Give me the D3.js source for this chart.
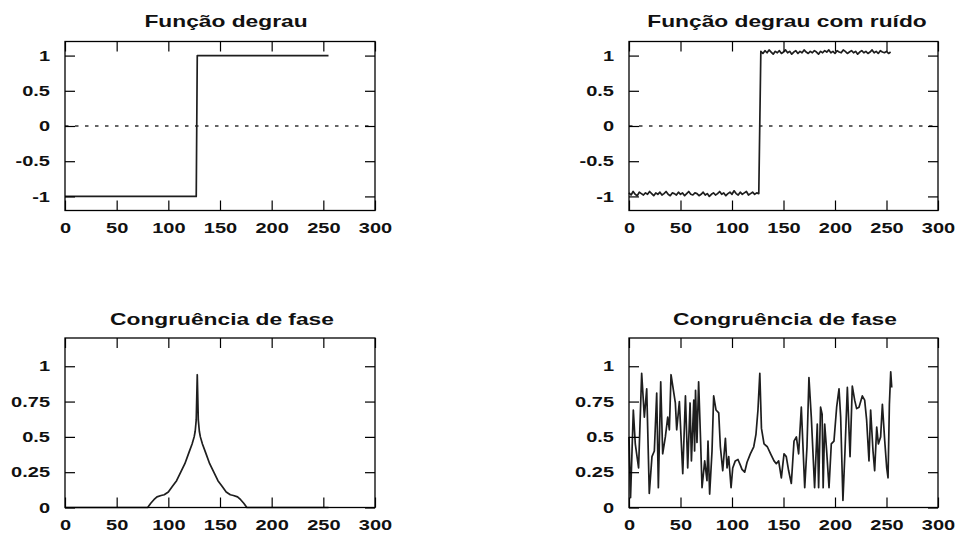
<!DOCTYPE html>
<html><head><meta charset="utf-8">
<script src="https://cdn.jsdelivr.net/npm/d3@7"></script>
<style>
html,body{margin:0;padding:0;background:#fff;}
svg{display:block;}
</style>
</head><body>
<svg id="chart" width="958" height="540"></svg>
<script>
// ---------- data ----------
const titles = ["Função degrau", "Função degrau com ruído", "Congruência de fase", "Congruência de fase"];
const xTicks = [0, 50, 100, 150, 200, 250, 300];
const stepYTicks = [-1, -0.5, 0, 0.5, 1];
const pcYTicks = [0, 0.25, 0.5, 0.75, 1];

// clean step
const stepX = [0, 127, 128, 255];
const stepY = [-1, -1, 1, 1];

// noisy step (samples every 2 units, 0..254)
const noisyLow = [-0.95,-0.98,-0.93,-0.97,-0.99,-0.94,-0.96,-0.98,-0.95,-0.97,-0.93,-0.96,-0.99,-0.95,-0.97,-0.94,
  -0.98,-0.96,-0.93,-0.97,-0.99,-0.95,-0.96,-0.98,-0.94,-0.97,-0.95,-0.99,-0.96,-0.93,-0.97,-0.98,
  -0.95,-0.96,-0.99,-0.97,-0.94,-0.98,-0.96,-1.00,-0.97,-0.95,-0.98,-0.96,-0.93,-0.97,-0.95,-0.99,
  -0.96,-0.94,-0.97,-0.92,-0.96,-0.98,-0.94,-0.97,-0.95,-0.93,-0.98,-0.96,-0.94,-0.97,-0.95,-0.96];
const noisyHigh = [1.06,1.03,1.07,1.04,1.08,1.05,1.02,1.06,1.04,1.07,1.03,1.05,1.08,1.04,1.06,1.02,
  1.05,1.07,1.03,1.06,1.04,1.08,1.05,1.03,1.06,1.04,1.07,1.05,1.02,1.06,1.04,1.07,
  1.05,1.08,1.04,1.06,1.03,1.07,1.05,1.04,1.08,1.06,1.03,1.05,1.07,1.04,1.06,1.02,
  1.05,1.07,1.04,1.06,1.03,1.05,1.08,1.04,1.06,1.03,1.07,1.05,1.04,1.06,1.03,1.05];

// phase congruency of clean step
const pcX = [0, 80, 83, 86, 89, 93, 96, 100, 104, 108, 112, 116, 120, 123, 125, 126, 127, 128,
  129, 130, 131, 133, 136, 140, 144, 148, 152, 156, 160, 163, 167, 170, 173, 176, 255];
const pcY = [0, 0, 0.03, 0.055, 0.075, 0.085, 0.09, 0.11, 0.15, 0.19, 0.25, 0.31, 0.39, 0.45, 0.5, 0.54, 0.62, 0.94,
  0.62, 0.54, 0.5, 0.45, 0.39, 0.31, 0.25, 0.19, 0.15, 0.11, 0.09, 0.085, 0.075, 0.055, 0.03, 0, 0];

// phase congruency of noisy step
const pcNX = [0,1.5,4.2,6.1,9.3,12.3,14.9,17.2,19.7,22.3,24.6,26.9,28.5,30.8,32.7,35.3,37.6,39.2,40.8,45,46.3,48.9,
  52.2,54.8,57,59.3,60.6,62.9,63.7,64.6,66,67.6,69.3,70.9,73.5,75.7,76.7,78.3,80.6,82.2,84.5,87.1,88.7,91,93.6,95.2,
  96.8,99.1,100.7,103.2,105.8,108.1,109.7,112.3,114.6,117.8,121.1,123.3,125.2,127,128.6,131.1,134.3,137.5,140.8,143,
  145.3,147.9,150.5,152.7,155,157.6,160.2,162.5,164.7,167.3,170.6,172.8,174.7,177,180.2,182.8,184.1,186,187.5,188.5,
  190,191.9,194.2,196.4,199,201.6,203.9,205.5,207.7,209.7,212,214.6,216.8,219.1,221,223.3,226.5,228.8,230.7,233,
  234.6,236.9,238.5,240.5,242.1,244.3,246,248.3,250.2,251.5,252.8,254.1,255.1];
const pcNY = [0.50,0.07,0.69,0.45,0.28,0.95,0.64,0.84,0.10,0.36,0.40,0.81,0.14,0.89,0.38,0.50,0.64,0.55,0.94,0.74,0.55,0.75,
  0.24,0.79,0.28,0.74,0.33,0.76,0.40,0.83,0.46,0.89,0.52,0.14,0.33,0.19,0.47,0.095,0.40,0.79,0.69,0.67,0.43,0.26,0.49,0.28,
  0.36,0.14,0.28,0.33,0.34,0.30,0.27,0.25,0.32,0.38,0.43,0.52,0.69,0.95,0.56,0.45,0.43,0.38,0.33,0.31,
  0.33,0.21,0.38,0.36,0.26,0.17,0.47,0.50,0.38,0.71,0.14,0.43,0.92,0.64,0.14,0.59,0.14,0.71,0.66,0.14,
  0.59,0.40,0.14,0.45,0.47,0.71,0.84,0.64,0.05,0.40,0.85,0.36,0.86,0.76,0.70,0.71,0.79,0.76,0.62,0.33,
  0.69,0.40,0.26,0.57,0.45,0.50,0.73,0.47,0.28,0.21,0.73,0.96,0.85];

// ---------- drawing ----------
const svg = d3.select("#chart");
const FONT = "'Liberation Sans', Arial, Helvetica, sans-serif";
const STRETCH = 1.38;

const noisyX = [], noisyY = [];
noisyLow.forEach((v, i) => { noisyX.push(i * 2); noisyY.push(v); });
noisyHigh.forEach((v, i) => { noisyX.push(128 + i * 2); noisyY.push(v); });

const panels = [
  {box: [65, 375, 41.5, 210.5], yDom: [-1.2, 1.2], yTicks: stepYTicks, xs: stepX, ys: stepY, zero: true, tx: 226, ty: 27},
  {box: [629, 938, 41.5, 210.5], yDom: [-1.2, 1.2], yTicks: stepYTicks, xs: noisyX, ys: noisyY, zero: true, tx: 787, ty: 27},
  {box: [65, 375, 338, 507.5], yDom: [0, 1.2], yTicks: pcYTicks, xs: pcX, ys: pcY, zero: false, tx: 222, ty: 325},
  {box: [629, 938, 338, 507.5], yDom: [0, 1.2], yTicks: pcYTicks, xs: pcNX, ys: pcNY, zero: false, tx: 785, ty: 325}
];

panels.forEach((p, idx) => {
  const [x0, x1, y0, y1] = p.box;
  const x = d3.scaleLinear().domain([0, 300]).range([x0, x1]);
  const y = d3.scaleLinear().domain(p.yDom).range([y1, y0]);
  const g = svg.append("g");

  // zero dotted line
  if (p.zero) {
    g.append("line")
      .attr("x1", x(0)).attr("x2", x(300)).attr("y1", y(0)).attr("y2", y(0))
      .attr("stroke", "#333").attr("stroke-width", 1.3).attr("stroke-dasharray", "3.5,6.5");
  }

  // data line
  const pts = p.xs.map((v, i) => [v, p.ys[i]]);
  g.append("path")
    .datum(pts)
    .attr("fill", "none")
    .attr("stroke", "#1e1e1e")
    .attr("stroke-width", 1.7)
    .attr("stroke-linejoin", "round")
    .attr("d", d3.line().x(d => x(d[0])).y(d => y(d[1])));

  const styleAxis = sel => {
    sel.select(".domain").remove();
    sel.selectAll(".tick line").attr("stroke", "#000").attr("stroke-width", 1.2);
  };

  // bottom axis with labels
  const gb = g.append("g").attr("transform", `translate(0,${y1})`)
    .call(d3.axisBottom(x).tickValues(xTicks).tickSizeInner(-10).tickSizeOuter(0).tickPadding(12).tickFormat(d => String(d)));
  styleAxis(gb);
  gb.selectAll(".tick text")
    .attr("font-family", FONT).attr("font-size", 14.5).attr("font-weight", "bold").attr("fill", "#111")
    .attr("transform", `scale(${STRETCH},1)`);

  // top axis mirror
  const gt = g.append("g").attr("transform", `translate(0,${y0})`)
    .call(d3.axisTop(x).tickValues(xTicks).tickSizeInner(-10).tickSizeOuter(0).tickFormat(""));
  styleAxis(gt);

  // left axis with labels
  const gl = g.append("g").attr("transform", `translate(${x0},0)`)
    .call(d3.axisLeft(y).tickValues(p.yTicks).tickSizeInner(-10).tickSizeOuter(0).tickPadding(15).tickFormat(d => String(d)));
  styleAxis(gl);
  gl.selectAll(".tick text")
    .attr("font-family", FONT).attr("font-size", 14.5).attr("font-weight", "bold").attr("fill", "#111")
    .attr("x", -15 / STRETCH)
    .attr("transform", `scale(${STRETCH},1)`);

  // right axis mirror
  const gr = g.append("g").attr("transform", `translate(${x1},0)`)
    .call(d3.axisRight(y).tickValues(p.yTicks).tickSizeInner(-10).tickSizeOuter(0).tickFormat(""));
  styleAxis(gr);

  // frame
  g.append("rect")
    .attr("x", x0).attr("y", y0).attr("width", x1 - x0).attr("height", y1 - y0)
    .attr("fill", "none").attr("stroke", "#000").attr("stroke-width", 1.3);

  // title
  svg.append("text")
    .attr("transform", `translate(${p.tx},${p.ty}) scale(${STRETCH},1)`)
    .attr("text-anchor", "middle")
    .attr("font-family", FONT).attr("font-size", 16.5).attr("font-weight", "bold").attr("fill", "#111")
    .text(titles[idx]);
});
</script>
</body></html>
